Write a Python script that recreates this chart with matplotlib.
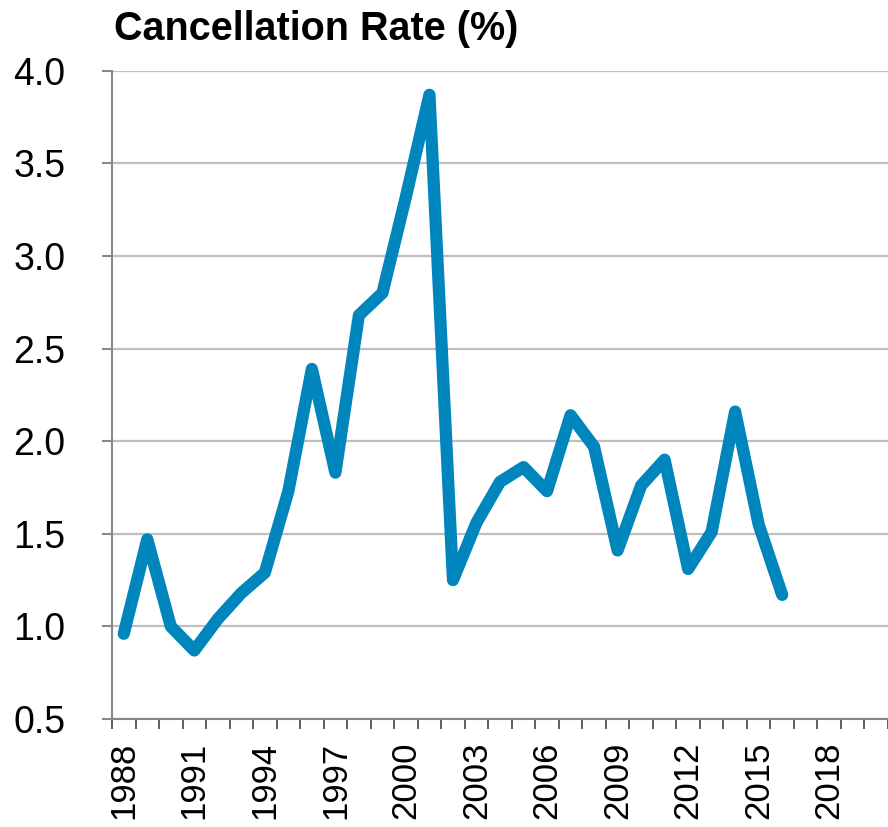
import matplotlib.pyplot as plt
import numpy as np

plt.rcParams['font.family'] = ['Liberation Sans', 'DejaVu Sans']

years = list(range(1988, 2021))
rate = [0.96, 1.47, 1.00, 0.87, 1.04, 1.18, 1.29, 1.73, 2.39, 1.83,
        2.68, 2.80, 3.32, 3.87, 1.25, 1.56, 1.78, 1.86, 1.73, 2.14,
        1.97, 1.41, 1.76, 1.90, 1.31, 1.51, 2.16, 1.55, 1.17]
y_ticks = [0.5, 1.0, 1.5, 2.0, 2.5, 3.0, 3.5, 4.0]

fig = plt.figure(figsize=(8.88, 8.27), dpi=100)
ax = fig.add_axes([112/888, 1 - 719/827, 776/888, (719 - 70.7)/827])

x = np.arange(len(rate))
ax.plot(x, rate, color='#0086BC', lw=8.8, solid_capstyle='round',
        solid_joinstyle='round', zorder=3)

ax.set_xlim(-0.5, len(years) - 0.5)
ax.set_ylim(0.5, 4.0)
ax.set_yticks(y_ticks)
ax.set_yticklabels([f'{v:.1f}' for v in y_ticks], fontsize=27)
ax.grid(axis='y', color='#BFBFBF', lw=1.6, zorder=0)

lab_idx = np.arange(0, len(years), 3)
ax.set_xticks(lab_idx)
ax.set_xticklabels([str(years[i]) for i in lab_idx], rotation=90, fontsize=25)
ax.set_xticks(np.arange(len(years) + 1) - 0.5, minor=True)
ax.tick_params(axis='x', which='major', length=0, pad=16.5)
ax.tick_params(axis='x', which='minor', length=7.5, width=1.2, color='#444444')
ax.tick_params(axis='y', length=7.5, width=1.5, color='#888888', pad=26)

for s in ['top', 'right']:
    ax.spines[s].set_visible(False)
ax.spines['left'].set_color('#888888')
ax.spines['left'].set_linewidth(1.5)
ax.spines['bottom'].set_color('#888888')
ax.spines['bottom'].set_linewidth(1.5)

fig.text(114/888, 1 - 40/827, 'Cancellation Rate (%)', fontsize=28.5,
         fontweight='bold', ha='left', va='baseline')

fig.savefig('out.png', dpi=100)
